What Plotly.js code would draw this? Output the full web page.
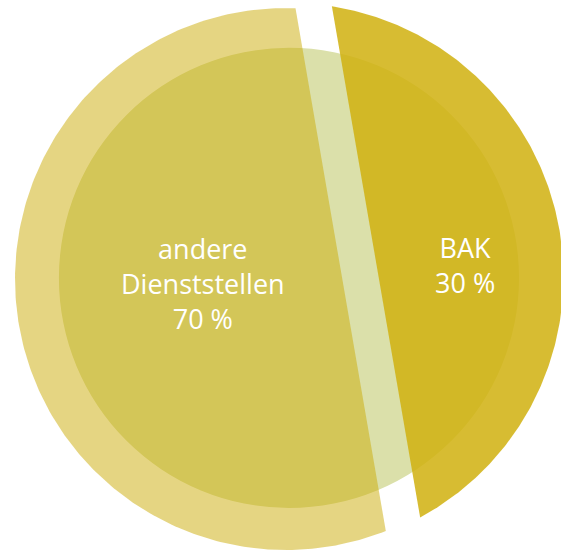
<!DOCTYPE html>
<html>
<head>
<meta charset="utf-8">
<script src="https://cdn.plot.ly/plotly-3.0.1.min.js"></script>
<style>html,body{margin:0;padding:0;background:#fff;}#chart{width:561px;height:551px;}</style>
</head>
<body>
<div id="chart"></div>
<script>
// ---- data ----
var categories = ["andere Dienststellen", "BAK"];
var shares = [70, 30];
var labels = ["andere<br>Dienststellen<br>70 %", "BAK<br>30 %"];

// ---- geometry (style) ----
var TILT = 9.8 * Math.PI / 180;   // tilt of the cut
var GAP = 0.115;                  // strip removed from the large piece
var centerLeft = [0, 0];
var centerRight = [0.014, 0.008];
var radiusRight = 1.01;
var N = 240;

// chord distance so that the small segment has the small share
function chordDist(frac) {
  var target = 2 * Math.PI * frac, lo = 0, hi = Math.PI;
  for (var i = 0; i < 60; i++) {
    var m = (lo + hi) / 2;
    if (m - Math.sin(m) < target) lo = m; else hi = m;
  }
  return Math.cos((lo + hi) / 4);
}
var total = shares[0] + shares[1];
var d = chordDist(shares[1] / total);

function arc(c, r, t0, t1) {
  var xs = [], ys = [];
  for (var i = 0; i <= N; i++) {
    var t = t0 + (t1 - t0) * i / N;
    xs.push(c[0] + r * Math.cos(t));
    ys.push(c[1] + r * Math.sin(t));
  }
  xs.push(xs[0]); ys.push(ys[0]);
  return {x: xs, y: ys};
}
var aR = Math.acos(d);
var aL = Math.acos(d - GAP);
var rightPiece = arc(centerRight, radiusRight, TILT - aR, TILT + aR);
var leftPiece = arc(centerLeft, 1, TILT + aL, TILT + 2 * Math.PI - aL);

var traces = [
  {type: "scatter", mode: "lines", x: leftPiece.x, y: leftPiece.y, fill: "toself",
   fillcolor: "rgba(203,171,5,0.5)", line: {width: 0, color: "rgba(0,0,0,0)"},
   name: categories[0], hoverinfo: "name", showlegend: false},
  {type: "scatter", mode: "lines", x: rightPiece.x, y: rightPiece.y, fill: "toself",
   fillcolor: "rgba(208,177,16,0.86)", line: {width: 0, color: "rgba(0,0,0,0)"},
   name: categories[1], hoverinfo: "name", showlegend: false}
];

var innerC = [0.011, 0.004], innerR = 0.849;
var font = {family: "Open Sans, sans-serif", size: 27, color: "#ffffff"};

var layout = {
  width: 561, height: 551,
  margin: {l: 0, r: 0, t: 0, b: 0},
  paper_bgcolor: "#ffffff", plot_bgcolor: "#ffffff",
  showlegend: false,
  xaxis: {range: [-1.0554, 1.0148], visible: false, fixedrange: true},
  yaxis: {range: [-1.0037, 1.0295], visible: false, fixedrange: true},
  shapes: [{type: "circle", xref: "x", yref: "y", layer: "below",
    x0: innerC[0] - innerR, x1: innerC[0] + innerR,
    y0: innerC[1] - innerR, y1: innerC[1] + innerR,
    fillcolor: "#dbe0aa", line: {width: 0}}],
  annotations: [
    {x: -0.305, y: -0.016, xref: "x", yref: "y", text: labels[0], showarrow: false,
     font: font, align: "center", xanchor: "center", yanchor: "middle"},
    {x: 0.66, y: 0.05, xref: "x", yref: "y", text: labels[1], showarrow: false,
     font: font, align: "center", xanchor: "center", yanchor: "middle"}
  ]
};

Plotly.newPlot("chart", traces, layout, {displayModeBar: false, staticPlot: true});
</script>
</body>
</html>
